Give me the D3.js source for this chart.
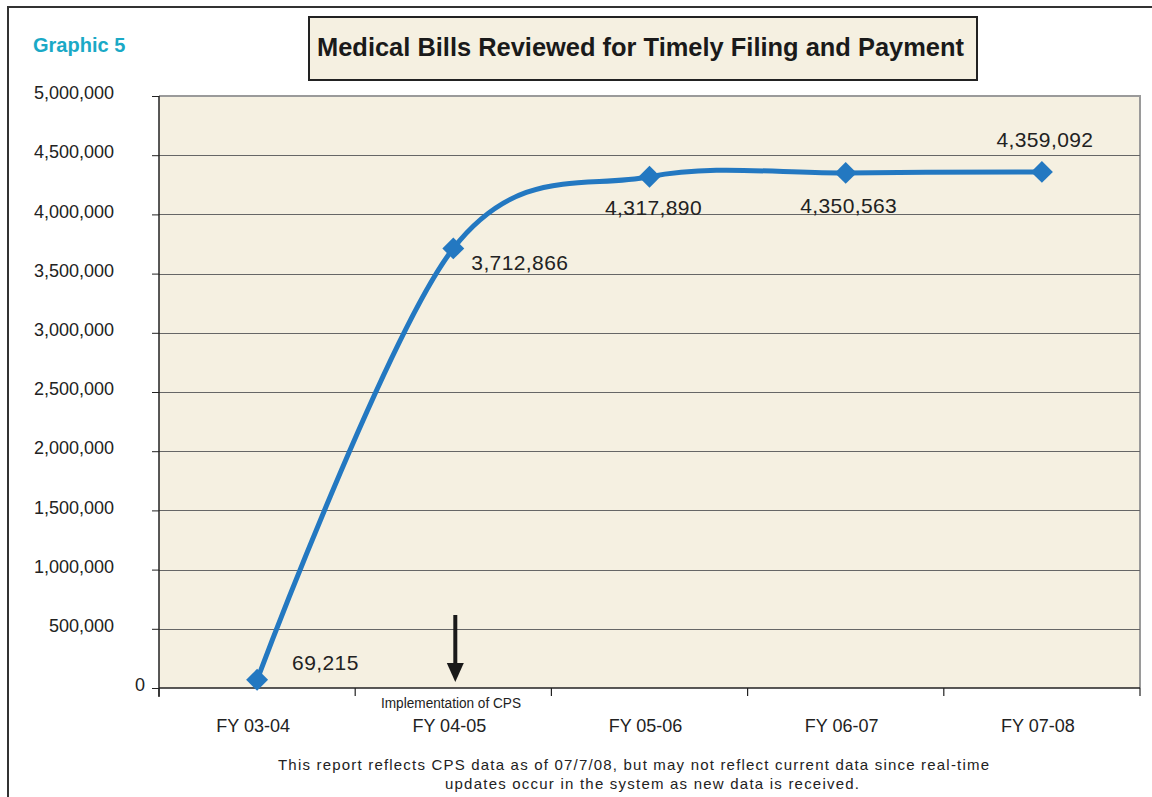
<!DOCTYPE html>
<html>
<head>
<meta charset="utf-8">
<script src="https://cdn.jsdelivr.net/npm/d3@7/dist/d3.min.js"></script>
<style>
	body { margin: 0; background: #fff; }
	svg { display: block; font-family: "Liberation Sans", Arial, sans-serif; }
</style>
</head>
<body>
<svg id="chart" width="1152" height="797"></svg>
<script>
var categories = ['FY 03-04', 'FY 04-05', 'FY 05-06', 'FY 06-07', 'FY 07-08'];
var bills = [69215, 3712866, 4317890, 4350563, 4359092];
var yTicks = [0, 500000, 1000000, 1500000, 2000000, 2500000, 3000000, 3500000, 4000000, 4500000, 5000000];

var title = 'Medical Bills Reviewed for Timely Filing and Payment';
var graphicLabel = 'Graphic 5';
var markerNote = 'Implementation of CPS';
var footnote = [
	'This report reflects CPS data as of 07/7/08, but may not reflect current data since real-time',
	'updates occur in the system as new data is received.'
];

// where each value label sits next to its point
var labelPlacement = [
	{anchor: 'start', dx: 35, dy: -10},
	{anchor: 'start', dx: 18, dy: 22},
	{anchor: 'middle', dx: 4, dy: 38},
	{anchor: 'middle', dx: 3, dy: 40},
	{anchor: 'middle', dx: 3, dy: -25}
];

(function() {
	var left = 159,
		right = 1140,
		top = 96,
		bottom = 688,
		paper = '#f5f0e1',
		blue = '#2378c1';

	var svg = d3.select('#chart');

	// faint parchment mottling
	var filter = svg.append('defs')
		.append('filter')
		.attr('id', 'parchment')
		.attr('x', 0).attr('y', 0).attr('width', 1).attr('height', 1);

	filter.append('feTurbulence')
		.attr('type', 'fractalNoise')
		.attr('baseFrequency', 0.025)
		.attr('numOctaves', 3)
		.attr('seed', 4)
		.attr('result', 'noise');

	filter.append('feColorMatrix')
		.attr('in', 'noise')
		.attr('type', 'matrix')
		.attr('values', '0 0 0 0 0.93  0 0 0 0 0.86  0 0 0 0 0.72  0 0 0 0.12 0');

	// outer frame
	svg.append('rect')
		.attr('x', 8)
		.attr('y', 7)
		.attr('width', 1160)
		.attr('height', 800)
		.attr('fill', 'none')
		.attr('stroke', '#333')
		.attr('stroke-width', 2)

	svg.append('text')
		.text(graphicLabel)
		.attr('x', 33)
		.attr('y', 52)
		.attr('fill', '#1aa9c6')
		.attr('font-weight', 'bold')
		.attr('font-size', 20)

	// title box
	svg.append('rect')
		.attr('x', 309)
		.attr('y', 17)
		.attr('width', 668)
		.attr('height', 63)
		.attr('fill', paper)
		.attr('stroke', '#222')
		.attr('stroke-width', 2)

	svg.append('text')
		.text(title)
		.attr('x', 317)
		.attr('y', 56)
		.attr('font-family', '"Liberation Sans Narrow", "Arial Narrow", "Liberation Sans", Arial, sans-serif')
		.attr('font-weight', 'bold')
		.attr('font-size', 26)
		.attr('fill', '#1a1a1a')
		.attr('textLength', 647)
		.attr('lengthAdjust', 'spacingAndGlyphs')

	var x = d3.scaleBand()
		.domain(categories)
		.range([left, right]);

	var y = d3.scaleLinear()
		.domain([0, 5000000])
		.range([bottom, top]);

	// plot background
	svg.append('rect')
		.attr('x', left)
		.attr('y', top)
		.attr('width', right - left)
		.attr('height', bottom - top)
		.attr('fill', paper)

	svg.append('rect')
		.attr('x', left)
		.attr('y', top)
		.attr('width', right - left)
		.attr('height', bottom - top)
		.attr('filter', 'url(#parchment)')

	svg.append('path')
		.attr('d', 'M' + left + ',' + top + 'H' + right + 'V' + bottom)
		.attr('fill', 'none')
		.attr('stroke', '#9a9a9a')
		.attr('stroke-width', 2)

	// gridlines
	svg.append('g')
		.selectAll('line')
		.data(yTicks.filter(function(d) { return d > 0 && d < 5000000; }))
		.enter()
		.append('line')
		.attr('x1', left)
		.attr('x2', right)
		.attr('y1', function(d) { return Math.round(y(d)) + .5; })
		.attr('y2', function(d) { return Math.round(y(d)) + .5; })
		.attr('stroke', '#666')
		.attr('stroke-width', 1)

	// y axis
	var yAxis = svg.append('g')
		.attr('transform', 'translate(' + left + ',0)')
		.call(d3.axisLeft(y)
			.tickValues(yTicks)
			.tickFormat(d3.format(','))
			.tickSize(7)
			.tickPadding(38));

	yAxis.select('.domain').remove();
	yAxis.selectAll('.tick line').attr('stroke', '#222');
	yAxis.selectAll('.tick text')
		.attr('font-size', 18)
		.attr('font-family', '"Liberation Sans", Arial, sans-serif')
		.attr('fill', '#222')
		.attr('dy', '0.15em')
		.filter(function(d) { return d === 0; })
		.attr('x', -14);

	svg.append('line')
		.attr('x1', left)
		.attr('x2', left)
		.attr('y1', top)
		.attr('y2', bottom + 9)
		.attr('stroke', '#222')
		.attr('stroke-width', 1.5)

	// x axis, ticks on the category boundaries
	svg.append('line')
		.attr('x1', left)
		.attr('x2', right)
		.attr('y1', bottom)
		.attr('y2', bottom)
		.attr('stroke', '#222')
		.attr('stroke-width', 1.5)

	var bounds = categories.map(function(d) { return x(d); }).concat([x(categories[categories.length - 1]) + x.bandwidth()]);
	svg.append('g')
		.selectAll('line')
		.data(bounds)
		.enter()
		.append('line')
		.attr('x1', function(d) { return d; })
		.attr('x2', function(d) { return d; })
		.attr('y1', bottom)
		.attr('y2', bottom + 8)
		.attr('stroke', '#222')
		.attr('stroke-width', 1.2)

	var xAxis = svg.append('g')
		.attr('transform', 'translate(0,' + bottom + ')')
		.call(d3.axisBottom(x).tickSize(0).tickPadding(31));

	xAxis.select('.domain').remove();
	xAxis.selectAll('.tick text')
		.attr('font-size', 18)
		.attr('font-family', '"Liberation Sans", Arial, sans-serif')
		.attr('fill', '#222')
		.attr('dx', -4);

	// the line
	var cx = function(d, i) { return x(categories[i]) + x.bandwidth()/2; };

	var line = d3.line()
		.x(cx)
		.y(function(d) { return y(d); })
		.curve(d3.curveCardinal.tension(0));

	svg.append('path')
		.datum(bills)
		.attr('d', line)
		.attr('fill', 'none')
		.attr('stroke', blue)
		.attr('stroke-width', 5)
		.attr('stroke-linejoin', 'round')

	svg.append('g')
		.selectAll('path')
		.data(bills)
		.enter()
		.append('path')
		.attr('d', d3.symbol(d3.symbolSquare, 240))
		.attr('transform', function(d, i) {
			return 'translate(' + cx(d, i) + ' ' + y(d) + ') rotate(45)';
		})
		.attr('fill', blue)

	svg.append('g')
		.selectAll('text')
		.data(bills)
		.enter()
		.append('text')
		.text(d3.format(','))
		.attr('x', function(d, i) { return cx(d, i) + labelPlacement[i].dx; })
		.attr('y', function(d, i) { return y(d) + labelPlacement[i].dy; })
		.attr('text-anchor', function(d, i) { return labelPlacement[i].anchor; })
		.attr('font-size', 21)
		.attr('letter-spacing', 0.4)
		.attr('fill', '#222')

	// implementation arrow
	var ax = x(categories[1]) + x.bandwidth()/2 + 2;
	svg.append('line')
		.attr('x1', ax)
		.attr('x2', ax)
		.attr('y1', bottom - 73)
		.attr('y2', bottom - 20)
		.attr('stroke', '#1a1a1a')
		.attr('stroke-width', 4)

	svg.append('path')
		.attr('d', 'M' + (ax - 8.5) + ',' + (bottom - 25) + 'L' + (ax + 8.5) + ',' + (bottom - 25) + 'L' + ax + ',' + (bottom - 6) + 'Z')
		.attr('fill', '#1a1a1a')

	svg.append('text')
		.text(markerNote)
		.attr('x', 381)
		.attr('y', 708)
		.attr('font-size', 14)
		.attr('fill', '#222')
		.attr('textLength', 140)
		.attr('lengthAdjust', 'spacingAndGlyphs')

	// footnote
	svg.append('text')
		.text(footnote[0])
		.attr('x', 278)
		.attr('y', 770)
		.attr('font-size', 15)
		.attr('fill', '#222')
		.attr('textLength', 711)

	svg.append('text')
		.text(footnote[1])
		.attr('x', 445)
		.attr('y', 789)
		.attr('font-size', 15)
		.attr('fill', '#222')
		.attr('textLength', 414)
})();
</script>
</body>
</html>
